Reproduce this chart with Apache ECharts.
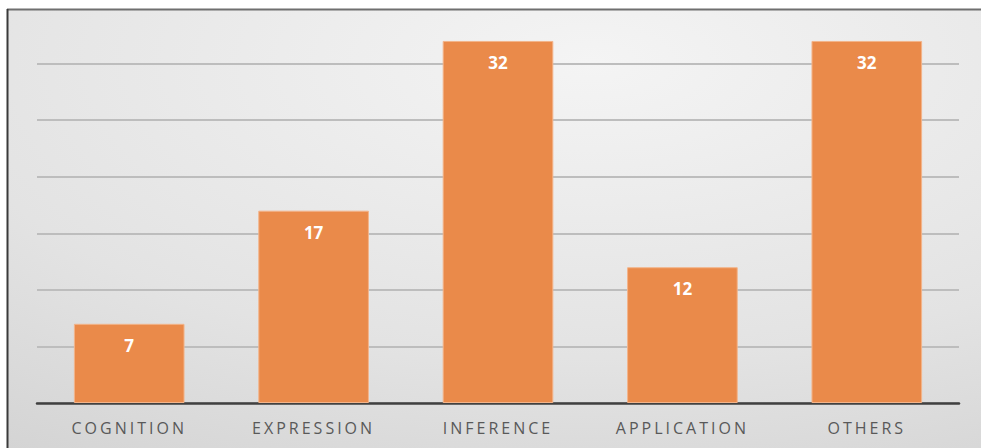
<!DOCTYPE html>
<html>
<head>
<meta charset="utf-8">
<script src="https://cdn.jsdelivr.net/npm/echarts@6/dist/echarts.min.js"></script>
<style>
  html, body { margin: 0; padding: 0; background: #ffffff; }
  #chart { width: 981px; height: 448px; }
  /* spaced-out category captions */
  #chart text[fill="#595959"] { letter-spacing: 3px; }
</style>
</head>
<body>
<div id="chart"></div>
<script>
// Question counts by category
const categories = ['COGNITION', 'EXPRESSION', 'INFERENCE', 'APPLICATION', 'OTHERS'];
const counts = [7, 17, 32, 12, 32];
const axisMax = 35;
const axisStep = 5;

const chart = echarts.init(document.getElementById('chart'), null, { renderer: 'svg' });

chart.setOption({
  animation: false,
  backgroundColor: '#ffffff',
  graphic: [
    {
      type: 'rect',
      z: -10,
      silent: true,
      shape: { x: 7, y: 9, width: 974, height: 439 },
      style: {
        fill: {
          type: 'radial', x: 0.6, y: 0.12, r: 1.35,
          colorStops: [
            { offset: 0, color: '#f4f4f4' },
            { offset: 0.5, color: '#e3e3e3' },
            { offset: 1, color: '#c9c9c9' }
          ]
        }
      }
    },
    {
      type: 'line', z: 10, silent: true,
      shape: { x1: 7, y1: 9.5, x2: 981, y2: 9.5 },
      style: { stroke: '#6f6f6f', lineWidth: 2 }
    },
    {
      type: 'line', z: 10, silent: true,
      shape: { x1: 7.5, y1: 9, x2: 7.5, y2: 448 },
      style: { stroke: '#3a3a3a', lineWidth: 2 }
    }
  ],
  grid: { left: 37, right: 22, top: 7, bottom: 45, containLabel: false },
  xAxis: {
    type: 'category',
    data: categories,
    axisTick: { show: false },
    axisLine: { show: true, lineStyle: { color: '#404040', width: 2.5 } },
    axisLabel: {
      color: '#595959',
      fontFamily: 'Open Sans',
      fontSize: 16,
      margin: 17
    }
  },
  yAxis: {
    type: 'value',
    min: 0,
    max: axisMax,
    interval: axisStep,
    axisLabel: { show: false },
    axisLine: { show: false },
    axisTick: { show: false },
    splitLine: {
      show: true,
      showMaxLine: false,
      lineStyle: { color: '#bdbdbd', width: 2 }
    }
  },
  series: [{
    type: 'bar',
    data: counts,
    barCategoryGap: '40%',
    itemStyle: { color: '#ea8a4a', borderColor: '#f3b48a', borderWidth: 1 },
    label: {
      show: true,
      position: 'insideTop',
      distance: 13,
      color: '#ffffff',
      fontWeight: 'bold',
      fontFamily: 'Open Sans',
      fontSize: 17
    }
  }]
});
</script>
</body>
</html>
